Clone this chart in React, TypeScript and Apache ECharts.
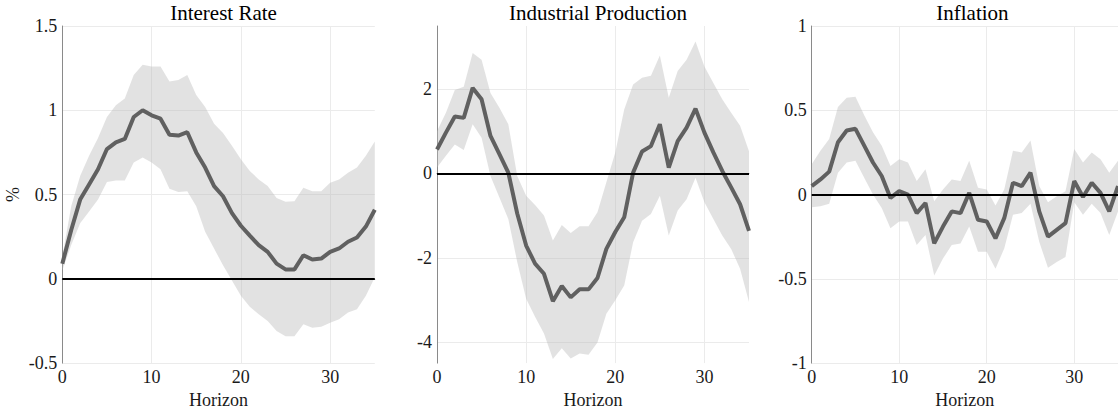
import React, { useEffect, useRef } from "react";
import * as echarts from "echarts";

const horizon = Array.from({ length: 36 }, (_, i) => i);

const titles = ["Interest Rate", "Industrial Production", "Inflation"];

// Interest Rate
const irMedian = [0.09, 0.29, 0.47, 0.56, 0.65, 0.77, 0.81, 0.83, 0.96, 1.0, 0.97, 0.95, 0.855, 0.85, 0.87, 0.75, 0.66, 0.55, 0.49, 0.39, 0.315, 0.256, 0.2, 0.16, 0.09, 0.056, 0.056, 0.14, 0.115, 0.12, 0.16, 0.18, 0.22, 0.245, 0.31, 0.41];
const irUpper = [0.13, 0.43, 0.61, 0.73, 0.835, 0.96, 1.03, 1.07, 1.21, 1.27, 1.26, 1.26, 1.17, 1.18, 1.21, 1.09, 1.02, 0.92, 0.865, 0.79, 0.71, 0.64, 0.59, 0.55, 0.48, 0.457, 0.46, 0.54, 0.52, 0.52, 0.57, 0.59, 0.63, 0.66, 0.73, 0.815];
const irLower = [0.05, 0.2, 0.33, 0.4, 0.47, 0.574, 0.584, 0.584, 0.69, 0.72, 0.69, 0.65, 0.535, 0.515, 0.52, 0.43, 0.28, 0.18, 0.08, -0.01, -0.1, -0.165, -0.21, -0.25, -0.31, -0.34, -0.34, -0.27, -0.29, -0.285, -0.26, -0.24, -0.2, -0.18, -0.1, 0.01];

// Industrial Production
const ipMedian = [0.57, 0.97, 1.35, 1.32, 2.03, 1.76, 0.89, 0.46, 0.02, -0.95, -1.71, -2.14, -2.38, -3.03, -2.67, -2.94, -2.75, -2.75, -2.48, -1.79, -1.39, -1.04, 0.02, 0.52, 0.65, 1.17, 0.14, 0.77, 1.09, 1.54, 0.97, 0.5, 0.06, -0.33, -0.73, -1.36];
const ipUpper = [1.0, 1.44, 1.98, 2.06, 2.86, 2.7, 1.91, 1.56, 1.17, -0.06, -0.53, -0.75, -1.0, -1.59, -1.22, -1.41, -1.25, -1.25, -0.92, -0.21, 0.5, 1.52, 2.11, 2.27, 2.32, 2.8, 1.8, 2.43, 2.7, 3.13, 2.54, 2.15, 1.76, 1.44, 1.13, 0.53];
const ipLower = [0.14, 0.42, 0.69, 0.56, 1.17, 0.85, -0.06, -0.57, -1.08, -2.1, -2.97, -3.4, -3.8, -4.4, -4.15, -4.39, -4.27, -4.3, -4.01, -3.33, -3.01, -2.66, -1.63, -1.12, -0.96, -0.53, -1.47, -0.88, -0.61, -0.1, -0.68, -1.08, -1.47, -1.79, -2.26, -3.05];

// Inflation
const infMedian = [0.05, 0.09, 0.136, 0.31, 0.38, 0.39, 0.29, 0.19, 0.11, -0.02, 0.02, 0.0, -0.11, -0.05, -0.29, -0.19, -0.1, -0.11, 0.01, -0.15, -0.16, -0.26, -0.14, 0.07, 0.05, 0.13, -0.1, -0.25, -0.21, -0.17, 0.08, -0.015, 0.07, 0.01, -0.1, 0.05];
const infUpper = [0.18, 0.26, 0.33, 0.52, 0.575, 0.58, 0.47, 0.37, 0.29, 0.17, 0.21, 0.19, 0.08, 0.15, -0.04, 0.03, 0.09, 0.08, 0.2, 0.04, 0.03, -0.065, 0.03, 0.26, 0.25, 0.32, 0.05, -0.045, -0.01, 0.02, 0.27, 0.19, 0.25, 0.21, 0.13, 0.2];
const infLower = [-0.075, -0.07, -0.055, 0.13, 0.19, 0.2, 0.1, 0.0, -0.08, -0.2, -0.16, -0.16, -0.3, -0.24, -0.48, -0.38, -0.3, -0.29, -0.19, -0.34, -0.34, -0.44, -0.32, -0.12, -0.11, -0.055, -0.28, -0.435, -0.4, -0.37, -0.045, -0.12, -0.055, -0.11, -0.24, -0.1];

const yMins = [-0.5, -4.5, -1];
const yMaxs = [1.5, 3.5, 1];
const yIntervals = [0.5, 2, 0.5];
const yTicks = [
  [-0.5, 0, 0.5, 1, 1.5],
  [-4, -2, 0, 2],
  [-1, -0.5, 0, 0.5, 1],
];
const xTicks = [0, 10, 20, 30];

const panels = [
  { median: irMedian, upper: irUpper, lower: irLower },
  { median: ipMedian, upper: ipUpper, lower: ipLower },
  { median: infMedian, upper: infUpper, lower: infLower },
];

const FONT = "'Liberation Serif', 'DejaVu Serif', serif";

export default function App() {
  const ref = useRef<HTMLDivElement>(null);
  useEffect(() => {
    if (!ref.current) return;
    const chart = echarts.init(ref.current, null, { renderer: "svg" });
    const lefts = [62.3, 437, 811.7];
    const widths = [312.5, 312, 311.5];
    const top = 26;
    const height = 339;

    const grids = lefts.map((l, i) => ({ left: l, top, width: widths[i], height }));
    const xAxes = lefts.map((_, i) => ({
      type: "value",
      gridIndex: i,
      min: 0,
      max: 35,
      interval: 10,
      name: "Horizon",
      nameLocation: "middle",
      nameGap: 27,
      nameTextStyle: { fontFamily: FONT, fontSize: 18, color: "#1a1a1a" },
      axisLine: { show: true, lineStyle: { color: "#8a8a8a", width: 1 } },
      axisTick: { show: false, customValues: xTicks },
      axisLabel: {
        customValues: xTicks,
        fontFamily: FONT,
        fontSize: 18,
        color: "#1a1a1a",
        margin: 5,
      },
      splitLine: { show: true, lineStyle: { color: "#ebebeb", width: 1 } },
    }));
    const yAxes = lefts.map((_, i) => ({
      type: "value",
      gridIndex: i,
      min: yMins[i],
      max: yMaxs[i],
      interval: yIntervals[i],
      name: i === 0 ? "%" : "",
      nameLocation: "middle",
      nameGap: 40,
      nameRotate: 90,
      nameTextStyle: { fontFamily: FONT, fontSize: 18, color: "#1a1a1a" },
      axisLine: { show: true, onZero: false, lineStyle: { color: "#8a8a8a", width: 1 } },
      axisTick: { show: false, customValues: yTicks[i] },
      axisLabel: {
        customValues: yTicks[i],
        fontFamily: FONT,
        fontSize: 18,
        color: "#1a1a1a",
        margin: 5,
      },
      splitLine: { show: true, lineStyle: { color: "#ebebeb", width: 1 } },
    }));

    const series: any[] = [];
    panels.forEach((p, i) => {
      const bandData = horizon.map((h, k) => [h, p.lower[k], p.upper[k]]);
      series.push({
        type: "custom",
        xAxisIndex: i,
        yAxisIndex: i,
        silent: true,
        z: 1,
        encode: { x: 0, y: [1, 2] },
        data: bandData,
        renderItem: (params: any, api: any) => {
          if (params.dataIndex !== 0) return null;
          const upperPts = bandData.map((d) => api.coord([d[0], d[2]]));
          const lowerPts = bandData.map((d) => api.coord([d[0], d[1]])).reverse();
          return {
            type: "polygon",
            shape: { points: upperPts.concat(lowerPts) },
            style: { fill: "rgba(185,185,185,0.42)", stroke: "none" },
          };
        },
      });
      series.push({
        type: "line",
        xAxisIndex: i,
        yAxisIndex: i,
        symbol: "none",
        lineStyle: { color: "#606060", width: 4 },
        data: horizon.map((h, k) => [h, p.median[k]]),
        z: 3,
        markLine: {
          silent: true,
          symbol: "none",
          label: { show: false },
          lineStyle: { color: "#000", width: 2, type: "solid" },
          data: [{ yAxis: 0 }],
        },
      });
    });

    chart.setOption({
      animation: false,
      backgroundColor: "#ffffff",
      title: titles.map((t, i) => ({
        text: t,
        left: lefts[i] + widths[i] / 2,
        top: -3,
        textAlign: "center",
        textStyle: { fontFamily: FONT, fontSize: 21, fontWeight: "normal", color: "#000" },
      })),
      grid: grids,
      xAxis: xAxes,
      yAxis: yAxes,
      series,
    });
    return () => chart.dispose();
  }, []);
  return (
    <div
      ref={ref}
      style={{ position: "absolute", left: 0, top: 0, width: 1118, height: 414 }}
    />
  );
}
